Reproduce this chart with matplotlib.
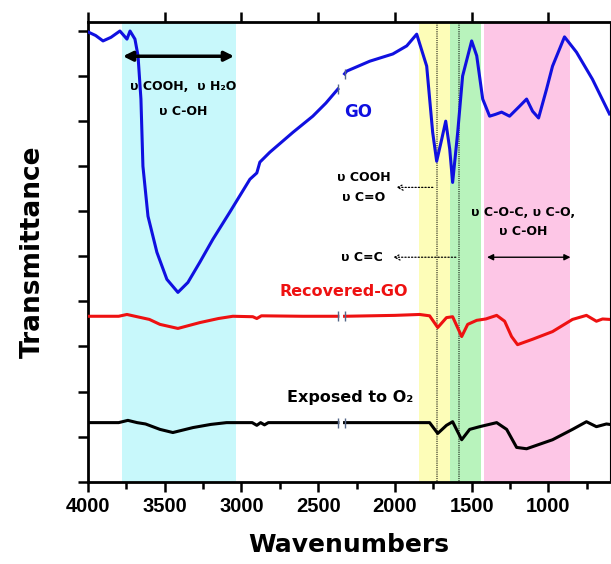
import numpy as np
import matplotlib
matplotlib.use('Agg')
import matplotlib.pyplot as plt
from matplotlib.ticker import MultipleLocator

# Espectros FTIR, numero de onda en cm-1
go_wn = [4000, 3950, 3902, 3850, 3792, 3746, 3726, 3694, 3674, 3655, 3642, 3609,
         3551, 3486, 3414, 3349, 3271, 3186, 3076, 2945, 2900, 2880, 2815, 2665,
         2535, 2450, 2372, 2328, 2314, 2164, 2014, 1923, 1858, 1793, 1754, 1728,
         1695, 1669, 1643, 1624, 1591, 1559, 1500, 1467, 1428, 1383, 1345, 1305,
         1253, 1188, 1142, 1103, 1064, 1012, 973, 895, 817, 713, 602]
go_t = [9.98, 9.90, 9.78, 9.86, 10.0, 9.82, 10.0, 9.82, 9.45, 8.49, 7.0, 5.89,
        5.09, 4.49, 4.20, 4.42, 4.87, 5.38, 5.98, 6.71, 6.85, 7.09, 7.31, 7.75,
        8.11, 8.40, 8.71, 9.05, 9.11, 9.33, 9.49, 9.67, 9.93, 9.22, 7.75, 7.11,
        7.60, 8.00, 7.38, 6.64, 7.75, 9.00, 9.78, 9.45, 8.49, 8.11, 8.15, 8.20,
        8.11, 8.33, 8.49, 8.22, 8.07, 8.71, 9.22, 9.87, 9.53, 8.93, 8.16]

rec_wn = [4000, 3800, 3746, 3680, 3600, 3531, 3414, 3271, 3150, 3056, 2926, 2900,
          2870, 2600, 2372, 2328, 2000, 1839, 1774, 1721, 1664, 1624, 1565, 1526,
          1467, 1408, 1337, 1285, 1240, 1201, 1103, 973, 843, 752, 687, 647, 600]
rec_t = [3.67, 3.67, 3.71, 3.66, 3.60, 3.49, 3.40, 3.53, 3.62, 3.67, 3.66, 3.62,
         3.68, 3.67, 3.67, 3.67, 3.69, 3.71, 3.68, 3.42, 3.64, 3.66, 3.22, 3.49,
         3.58, 3.61, 3.69, 3.56, 3.22, 3.04, 3.16, 3.33, 3.60, 3.69, 3.56, 3.61, 3.60]

exp_wn = [4000, 3800, 3740, 3680, 3625, 3531, 3447, 3316, 3200, 3097, 2930, 2900,
          2875, 2850, 2825, 2600, 2372, 2328, 2000, 1774, 1721, 1664, 1624, 1565,
          1513, 1448, 1337, 1272, 1207, 1142, 973, 843, 752, 687, 622, 600]
exp_t = [1.31, 1.31, 1.36, 1.31, 1.28, 1.16, 1.09, 1.20, 1.27, 1.31, 1.31, 1.25,
         1.31, 1.26, 1.31, 1.31, 1.31, 1.31, 1.31, 1.31, 1.07, 1.25, 1.33, 0.93,
         1.16, 1.22, 1.31, 1.16, 0.76, 0.73, 0.93, 1.16, 1.33, 1.22, 1.28, 1.27]

# Corte del espectro (zona CO2)
break_lo, break_hi = 2372, 2328

# Bandas sombreadas (inicio, fin, color)
bands = [(3780, 3036, '#c8f8fb'), (1845, 1643, '#fdfdb8'),
         (1643, 1442, '#b8f3bc'), (1422, 856, '#fdc6e6')]
ref_lines = [1735, 1725, 1587, 1580]


def split_break(wn, t):
    wn = np.array(wn, float)
    t = np.array(t, float)
    left = wn >= break_lo
    right = wn <= break_hi
    return (wn[left], t[left]), (wn[right], t[right])


fig = plt.figure(figsize=(6.11, 5.64), dpi=100)
ax = fig.add_axes([0.144, 0.146, 0.854, 0.815])

for x0, x1, c in bands:
    ax.axvspan(x0, x1, color=c, lw=0, zorder=0)
for x in ref_lines:
    ax.axvline(x, color='k', lw=0.5, ls=':', zorder=1)

for wn, t, col in [(go_wn, go_t, '#1010e0'), (rec_wn, rec_t, '#ee1111'),
                   (exp_wn, exp_t, 'black')]:
    left, right = split_break(wn, t)
    ax.plot(left[0], left[1], color=col, lw=2.2, zorder=3)
    ax.plot(right[0], right[1], color=col, lw=2.2, zorder=3)
    # marcas del corte
    ax.plot([left[0][-1], right[0][0]], [left[1][-1], right[1][0]], ls='none',
            marker='|', ms=7, mew=1, color='#556688', zorder=4)

# Anotaciones
fs = 9
ax.annotate('', xy=(3790, 9.44), xytext=(3030, 9.44),
            arrowprops=dict(arrowstyle='<|-|>', color='black', lw=2.5,
                            mutation_scale=14))
ax.text(3380, 8.76, 'υ COOH,  υ H₂O', ha='center', va='center', fontsize=fs,
        fontweight='bold')
ax.text(3380, 8.22, 'υ C-OH', ha='center', va='center', fontsize=fs,
        fontweight='bold')
ax.text(2240, 8.2, 'GO', color='#1010e0', ha='center', va='center',
        fontsize=12, fontweight='bold')
ax.text(2205, 6.75, 'υ COOH', ha='center', va='center', fontsize=fs,
        fontweight='bold')
ax.text(2205, 6.3, 'υ C=O', ha='center', va='center', fontsize=fs,
        fontweight='bold')
ax.annotate('', xy=(2010, 6.53), xytext=(1735, 6.53),
            arrowprops=dict(arrowstyle='->', color='black', lw=0.9, ls=':'))
ax.text(2215, 4.98, 'υ C=C', ha='center', va='center', fontsize=fs,
        fontweight='bold')
ax.annotate('', xy=(2030, 4.98), xytext=(1585, 4.98),
            arrowprops=dict(arrowstyle='->', color='black', lw=0.9, ls=':'))
ax.text(1165, 5.98, 'υ C-O-C, υ C-O,', ha='center', va='center', fontsize=fs,
        fontweight='bold')
ax.text(1165, 5.56, 'υ C-OH', ha='center', va='center', fontsize=fs,
        fontweight='bold')
ax.annotate('', xy=(1418, 4.98), xytext=(838, 4.98),
            arrowprops=dict(arrowstyle='<|-|>', color='black', lw=1.0,
                            mutation_scale=9))
ax.text(2335, 4.22, 'Recovered-GO', color='#ee1111', ha='center', va='center',
        fontsize=11.5, fontweight='bold')
ax.text(2295, 1.87, 'Exposed to O₂', color='black', ha='center', va='center',
        fontsize=11.5, fontweight='bold', zorder=5,
        bbox=dict(facecolor='white', edgecolor='none', pad=3))

ax.set_xlim(4000, 600)
ax.set_ylim(0, 10.2)
ax.xaxis.set_major_locator(MultipleLocator(500))
ax.xaxis.set_minor_locator(MultipleLocator(250))
ax.yaxis.set_major_locator(MultipleLocator(2))
ax.yaxis.set_minor_locator(MultipleLocator(1))
ax.set_yticklabels([])
ax.tick_params(axis='x', which='both', direction='out', top=True, width=1.8,
               labelsize=14.5, pad=4)
ax.tick_params(axis='x', which='major', length=7)
ax.tick_params(axis='x', which='minor', length=5, top=False)
ax.tick_params(axis='y', which='both', direction='out', width=1.8, length=7)
for lbl in ax.get_xticklabels():
    lbl.set_fontweight('bold')
    lbl.set_family('Liberation Sans')

for s in ['left', 'bottom', 'top']:
    ax.spines[s].set_linewidth(2)
ax.spines['right'].set_linewidth(0.8)

ax.set_xlabel('Wavenumbers', fontsize=18, fontweight='bold', labelpad=12)
ax.set_ylabel('Transmittance', fontsize=19, fontweight='bold', labelpad=20)

fig.savefig('out.png', dpi=100)
